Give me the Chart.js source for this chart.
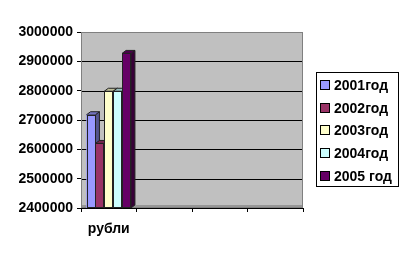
<!DOCTYPE html>
<html>
<head>
<meta charset="utf-8">
<script src="https://cdn.jsdelivr.net/npm/chart.js@4.4.0/dist/chart.umd.min.js"></script>
<style>
  html, body { margin: 0; padding: 0; background: #fff; }
  #wrap { width: 409px; height: 259px; }
</style>
</head>
<body>
<div id="wrap"><canvas id="chart" width="409" height="259"></canvas></div>
<script>
// data
const categories = ['рубли', '', '', ''];
const seriesNames = ['2001год', '2002год', '2003год', '2004год', '2005 год'];
const seriesValues = [
  [2718000, null, null, null],
  [2620000, null, null, null],
  [2798000, null, null, null],
  [2798000, null, null, null],
  [2927000, null, null, null]
];
const seriesColors = ['#9999FF', '#993366', '#FFFFCC', '#CCFFFF', '#660066'];
const yTicks = [2400000, 2500000, 2600000, 2700000, 2800000, 2900000, 3000000];

const FONT = { family: 'Liberation Sans, Arial, sans-serif', size: 14, weight: 'bold' };

function shade(hex, f) {
  const n = parseInt(hex.slice(1), 16);
  const r = Math.round(((n >> 16) & 255) * f);
  const g = Math.round(((n >> 8) & 255) * f);
  const b = Math.round((n & 255) * f);
  return `rgb(${r},${g},${b})`;
}

// grey wall + floor behind the bars
const wallPlugin = {
  id: 'wall',
  beforeDatasetsDraw(chart) {
    const { ctx, chartArea: a } = chart;
    ctx.save();
    ctx.fillStyle = '#C0C0C0';
    ctx.fillRect(a.left, a.top, a.right - a.left, a.bottom - a.top);
    const y = chart.scales.y;
    ctx.strokeStyle = '#000';
    ctx.lineWidth = 1;
    yTicks.slice(1, -1).forEach(v => {
      const py = Math.round(y.getPixelForValue(v)) + 0.5;
      ctx.beginPath();
      ctx.moveTo(a.left, py);
      ctx.lineTo(a.right, py);
      ctx.stroke();
    });
    ctx.fillStyle = '#969696';
    ctx.fillRect(a.left, a.bottom - 3, a.right - a.left, 3);
    ctx.strokeStyle = '#808080';
    ctx.strokeRect(a.left + 0.5, a.top + 0.5, a.right - a.left - 1, a.bottom - a.top - 1);
    ctx.restore();
  }
};

// 3D sides and tops, drawn series by series
const depthPlugin = {
  id: 'depth',
  afterDatasetsDraw(chart) {
    const { ctx, chartArea: a } = chart;
    const d = 4, d2 = 3;
    ctx.save();
    ctx.lineWidth = 1;
    ctx.strokeStyle = '#222';
    chart.data.datasets.forEach((ds, i) => {
      const meta = chart.getDatasetMeta(i);
      meta.data.forEach((bar, j) => {
        if (ds.data[j] == null) return;
        const p = bar.getProps(['x', 'y', 'base', 'width'], true);
        const x = p.x, y = p.y, width = p.width;
        const base = Math.min(p.base, a.bottom);
        const l = x - width / 2, r = x + width / 2;
        // side
        ctx.fillStyle = shade(seriesColors[i], 0.55);
        ctx.beginPath();
        ctx.moveTo(r, y); ctx.lineTo(r + d, y - d2); ctx.lineTo(r + d, base - d2); ctx.lineTo(r, base);
        ctx.closePath(); ctx.fill(); ctx.stroke();
        // top
        ctx.fillStyle = shade(seriesColors[i], 0.75);
        ctx.beginPath();
        ctx.moveTo(l, y); ctx.lineTo(l + d, y - d2); ctx.lineTo(r + d, y - d2); ctx.lineTo(r, y);
        ctx.closePath(); ctx.fill(); ctx.stroke();
        // front
        ctx.fillStyle = seriesColors[i];
        ctx.fillRect(l, y, width, base - y);
        ctx.strokeRect(Math.round(l) + 0.5, Math.round(y) + 0.5, Math.round(width) - 1, Math.round(base - y) - 1);
      });
    });
    ctx.restore();
  }
};

// boxed legend on the right
const legendPlugin = {
  id: 'boxLegend',
  afterDraw(chart) {
    const { ctx } = chart;
    const bx = 316, by = 72, bw = 82, bh = 114, step = 22.7;
    ctx.save();
    ctx.fillStyle = '#fff';
    ctx.fillRect(bx, by, bw, bh);
    ctx.strokeStyle = '#000';
    ctx.lineWidth = 1;
    ctx.strokeRect(bx + 0.5, by + 0.5, bw, bh);
    ctx.font = `${FONT.weight} ${FONT.size}px ${FONT.family}`;
    ctx.textBaseline = 'middle';
    seriesNames.forEach((name, i) => {
      const cy = by + 13 + i * step;
      ctx.fillStyle = seriesColors[i];
      ctx.fillRect(321, Math.round(cy - 4), 8, 8);
      ctx.strokeStyle = '#000';
      ctx.strokeRect(320.5, Math.round(cy - 4) - 0.5, 9, 9);
      ctx.fillStyle = '#000';
      ctx.fillText(name, 334, cy + 1);
    });
    ctx.restore();
  }
};

const datasets = seriesNames.map((name, i) => ({
  label: name,
  data: seriesValues[i],
  backgroundColor: seriesColors[i],
  borderWidth: 0,
  barPercentage: 1.0,
  categoryPercentage: 0.8
}));

new Chart(document.getElementById('chart').getContext('2d'), {
  type: 'bar',
  data: { labels: categories, datasets: datasets },
  options: {
    responsive: false,
    animation: false,
    layout: { padding: { top: 32, right: 106, left: 0, bottom: 0 } },
    scales: {
      x: {
        grid: { offset: true, drawOnChartArea: false, color: '#000', tickLength: 4 },
        border: { color: '#000' },
        ticks: { color: '#000', font: FONT, padding: 9, maxRotation: 0 },
        afterFit: s => { s.height = 51; }
      },
      y: {
        min: 2400000,
        max: 3000000,
        afterBuildTicks: s => { s.ticks = yTicks.map(v => ({ value: v })); },
        grid: { drawOnChartArea: false, color: '#000', tickLength: 4 },
        border: { color: '#000' },
        ticks: { color: '#000', font: FONT, padding: 4, callback: v => String(v) },
        afterFit: s => { s.width = 81; }
      }
    },
    plugins: {
      legend: { display: false },
      tooltip: { enabled: false }
    }
  },
  plugins: [wallPlugin, depthPlugin, legendPlugin]
});
</script>
</body>
</html>
